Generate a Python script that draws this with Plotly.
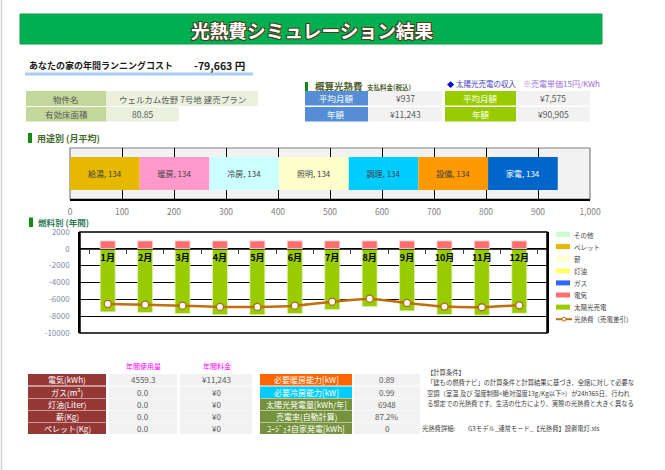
import plotly.graph_objects as go

W, H = 665, 470
FONT = "Noto Sans CJK JP"

# ---------------- data ----------------
usage_names = ['給湯', '暖房', '冷房', '照明', '調理', '設備', '家電']
usage_values = [134, 134, 134, 134, 134, 134, 134]
usage_colors = ['#e6b800', '#ff99cc', '#ccffff', '#ffffcc', '#00ccff', '#ff9900', '#0066cc']
usage_text_colors = ['#404040', '#404040', '#404040', '#404040', '#404040', '#404040', '#ffffff']

months = ['1月', '2月', '3月', '4月', '5月', '6月', '7月', '8月', '9月', '10月', '11月', '12月']
elec_cost = [937, 937, 937, 937, 937, 937, 937, 937, 937, 937, 937, 937]
solar_income = [-7490, -7570, -7690, -7840, -7840, -7690, -7220, -6860, -7370, -7800, -7880, -7650]
net_cost = [-6550, -6630, -6750, -6900, -6900, -6750, -6280, -5920, -6430, -6860, -6940, -6710]
y_ticks = [-10000, -8000, -6000, -4000, -2000, 0, 2000]

legend_names = ['その他', 'ペレット', '薪', '灯油', 'ガス', '電気', '太陽光売電', '光熱費（売電差引）']
legend_colors = ['#ccffcc', '#e6b800', '#ffffcc', '#ffff66', '#3366ff', '#ff6f6f', '#99cc00', '#c06f0c']

running_cost_label = 'あなたの家の年間ランニングコスト'
running_cost_value = '-79,663 円'
property_labels = ['物件名', '有効床面積']
property_values = ['ウェルカム佐野 7号地 建売プラン', '80.85']

cost_labels = ['平均月額', '年額']
cost_values = ['¥937', '¥11,243']
solar_values = ['¥7,575', '¥90,905']

fuel_rows = ['電気(kWh)', 'ガス(m³)', '灯油(Liter)', '薪(Kg)', 'ペレット(Kg)']
fuel_usage = ['4559.3', '0.0', '0.0', '0.0', '0.0']
fuel_cost = ['¥11,243', '¥0', '¥0', '¥0', '¥0']
spec_labels = ['必要暖房能力[kW]', '必要冷房能力[kW]', '太陽光発電量[kWh/年]', '売電率(自動計算)', 'ｺｰｼﾞｪﾈ自家発電[kWh]']
spec_values = ['0.89', '0.99', '6948', '87.2%', '0']
spec_colors = ['#ff6600', '#00ccff', '#76923c', '#76923c', '#76923c']

notes = [
    '【計算条件】',
    '「建もの燃費ナビ」の計算条件と計算結果に基づき、全館に対して必要な',
    '空調（室温 及び 湿度制御<絶対湿度13g/Kg以下>）が24h365日、行われ',
    'る想定での光熱費です。生活の仕方により、実際の光熱費と大きく異なる',
]
detail_label = '光熱費詳細:'
detail_file = 'G3モデル_通常モード_【光熱費】設置電灯.xls'


# ---------------- helpers ----------------
def X(px):
    return px / W


def Y(py):
    return 1 - py / H


shapes = []
annotations = []


def rect(x0, y0, x1, y1, fill, line=None, lw=0, layer='above'):
    shapes.append(dict(type='rect', xref='paper', yref='paper',
                       x0=X(x0), x1=X(x1), y0=Y(y1), y1=Y(y0),
                       fillcolor=fill, layer=layer,
                       line=dict(width=lw, color=line or fill)))


def txt(x, y, s, size=8, color='#404040', anchor='center', bold=False, **fkw):
    annotations.append(dict(xref='paper', yref='paper', x=X(x), y=Y(y), text=s,
                            showarrow=False, xanchor=anchor, yanchor='middle',
                            borderpad=0,
                            font=dict(family=FONT, size=size, color=color,
                                      weight='bold' if bold else 'normal', **fkw)))


fig = go.Figure()

# ---------------- chart 1: usage (horizontal stacked) ----------------
for name, val, col, tcol in zip(usage_names, usage_values, usage_colors, usage_text_colors):
    fig.add_trace(go.Bar(x=[val], y=['月平均'], orientation='h', width=0.65,
                         marker=dict(color=col, line=dict(width=0)),
                         text=[f'{name}, {val}'], textposition='inside',
                         insidetextanchor='middle', textangle=0,
                         textfont=dict(family=FONT, size=8, color=tcol),
                         showlegend=False, hoverinfo='skip',
                         xaxis='x', yaxis='y'))

# ---------------- chart 2: monthly fuel ----------------
fig.add_trace(go.Bar(x=months, y=elec_cost, width=0.4, name='電気',
                     marker=dict(color='#ff6f6f', line=dict(width=0.8, color='#ffd0d0')),
                     showlegend=False, hoverinfo='skip', xaxis='x2', yaxis='y2'))
fig.add_trace(go.Bar(x=months, y=solar_income, width=0.4, name='太陽光売電',
                     marker=dict(color='#99cc00', line=dict(width=0.8, color='#e0f0c0')),
                     showlegend=False, hoverinfo='skip', xaxis='x2', yaxis='y2'))
fig.add_trace(go.Scatter(x=months, y=net_cost, mode='lines+markers', name='光熱費（売電差引）',
                         line=dict(color='#c06f0c', width=2.5, shape='spline', smoothing=0.5),
                         marker=dict(size=7, color='white', line=dict(color='#b5651d', width=1.3)),
                         showlegend=False, hoverinfo='skip', xaxis='x2', yaxis='y2'))

# chart geometry (pixels)
c1 = dict(l=70, r=590, t=148, b=199)
c2 = dict(l=80, r=547, t=232, b=333)
y2min, y2max = y_ticks[0], y_ticks[-1]
zero_pos = Y(c2['b']) + (0 - y2min) / (y2max - y2min) * (Y(c2['t']) - Y(c2['b']))

# chart 1 background / border (paper coords, beneath grid)
rect(c1['l'], c1['t'], c1['r'], c1['b'], '#f2f2f2', line='#808080', lw=1.2, layer='below')
# chart 2 border
shapes.append(dict(type='rect', xref='paper', yref='paper',
                   x0=X(c2['l']), x1=X(c2['r']), y0=Y(c2['b']), y1=Y(c2['t']),
                   fillcolor='rgba(0,0,0,0)', line=dict(width=1.5, color='black'), layer='above'))

# ---------------- page decorations ----------------
shapes.append(dict(type='line', xref='paper', yref='paper', x0=X(1.5), x1=X(1.5), y0=0, y1=1,
                   line=dict(color='#d0d0d0', width=1.5)))

# title bar
rect(20, 14, 602, 44, '#00b050', line='#0e9a44', lw=1)
sh = '#4b3d1e'
txt(312, 29.5, '光熱費シミュレーション結果', size=18.7, color='white', bold=True,
    shadow=f'1px 1px 0px {sh}, -1px -1px 0px {sh}, 1px -1px 0px {sh}, -1px 1px 0px {sh}')

# running cost
txt(28, 66, running_cost_label, size=9, color='#1a1a1a', anchor='left', bold=True)
txt(193, 66, running_cost_value, size=10.5, color='#1a1a1a', anchor='left', bold=True)
rect(25, 72.5, 253, 75.5, '#a9cdf5')

# property table
prop_rows = [(91, 106, 258), (107, 121.5, 179)]
for (t, b, vr), lab, val in zip(prop_rows, property_labels, property_values):
    rect(26, t, 106.5, b, '#c4d79b')
    rect(106.5, t, vr, b, '#ebf1de')
    txt(66, (t + b) / 2, lab, size=8.5, color='#595959')
    txt((106.5 + vr) / 2, (t + b) / 2, val, size=8.5, color='#595959')

# 概算光熱費 block
rect(305, 82, 308, 91, '#138a13')
txt(314, 85.5, '概算光熱費', size=9.5, color='#4f5e2f', anchor='left', bold=True)
txt(366, 87, '支払料金(税込)', size=6.5, color='#4f5e2f', anchor='left', bold=True)
txt(446, 83.5, '◆', size=7, color='#0000cc', anchor='left')
txt(455, 83.5, '太陽光売電の収入', size=7.5, color='#4040c0', anchor='left')
txt(522, 83.5, '※売電単価15円/KWh', size=8, color='#9a6fe0', anchor='left')
cost_rows = [(91, 105.5), (107, 121.5)]
for (t, b), lab, cv, sv in zip(cost_rows, cost_labels, cost_values, solar_values):
    rect(305, t, 368, b, '#558ed5')
    rect(368, t, 442, b, '#f2f2f2')
    rect(445, t, 516, b, '#99cc00')
    rect(516, t, 590, b, '#f2f2f2')
    txt(336.5, (t + b) / 2, lab, size=8.5, color='white')
    txt(405, (t + b) / 2, cv, size=8.5, color='#595959')
    txt(480.5, (t + b) / 2, lab, size=8.5, color='white')
    txt(553, (t + b) / 2, sv, size=8.5, color='#595959')

# section headers
rect(28, 133, 32, 143, '#138a13')
txt(36, 138, '用途別 (月平均)', size=9, color='#3f6a2a', anchor='left', bold=True)
rect(29, 217.5, 33, 227, '#138a13')
txt(37, 222.5, '燃料別 (年間)', size=8.5, color='#2f7a5a', anchor='left', bold=True)

# manual legend for chart 2
leg_y0, leg_dy = 234.5, 12.1
for i, (nm, col) in enumerate(zip(legend_names, legend_colors)):
    yy = leg_y0 + i * leg_dy
    if i < len(legend_names) - 1:
        rect(556, yy - 2.5, 570, yy + 2.5, col)
    else:
        shapes.append(dict(type='line', xref='paper', yref='paper', x0=X(556), x1=X(572),
                           y0=Y(yy), y1=Y(yy), line=dict(color=col, width=2)))
        shapes.append(dict(type='circle', xref='paper', yref='paper', x0=X(562), x1=X(566),
                           y0=Y(yy + 2), y1=Y(yy - 2), fillcolor='white',
                           line=dict(color=col, width=1)))
    txt(573, yy, nm, size=6.5, color='#404040', anchor='left')

# bottom table
txt(143.5, 366, '年間使用量', size=7, color='#ff00ff')
txt(217, 366, '年間料金', size=7, color='#ff00ff')
row_tops = [374, 386.5, 398.5, 410.5, 422.5]
row_h = 11.5
for t, fr, fu, fc, sl, sv, sc in zip(row_tops, fuel_rows, fuel_usage, fuel_cost,
                                    spec_labels, spec_values, spec_colors):
    b = t + row_h
    m = (t + b) / 2
    rect(28, t, 106, b, '#953735')
    rect(109, t, 177, b, '#f2f2f2')
    rect(180, t, 252, b, '#f2f2f2')
    rect(260, t, 352, b, sc)
    rect(354, t, 420, b, '#f2f2f2')
    txt(67, m, fr, size=8, color='white')
    txt(143, m, fu, size=8, color='#595959')
    txt(216, m, fc, size=8, color='#595959')
    txt(306, m, sl, size=8, color='white')
    txt(387, m, sv, size=8, color='#595959')

# notes
note_ys = [372, 382.5, 393, 403]
for ny, nt in zip(note_ys, notes):
    txt(426, ny, nt, size=6.3, color='#404040', anchor='left')
txt(421, 428, detail_label, size=6.3, color='#404040', anchor='left')
txt(467, 428, detail_file, size=6.3, color='#404040', anchor='left')

# ---------------- layout ----------------
fig.update_layout(
    width=W, height=H, margin=dict(l=0, r=0, t=0, b=0, pad=0, autoexpand=False),
    paper_bgcolor='white', plot_bgcolor='rgba(0,0,0,0)',
    barmode='relative', showlegend=False,
    font=dict(family=FONT, color='#404040'),
    xaxis=dict(domain=[X(c1['l']), X(c1['r'])], anchor='y', range=[0, 1000], dtick=100,
               tickformat=',d', showgrid=True, gridcolor='black', gridwidth=1,
               zeroline=False, showline=True, linecolor='black', linewidth=1.5,
               ticks='', ticklabelstandoff=4, automargin=False,
               tickfont=dict(family=FONT, size=8.5, color='#7f7f7f'), fixedrange=True),
    yaxis=dict(domain=[Y(c1['b']), Y(c1['t'])], anchor='x', range=[-0.5, 0.5],
               showticklabels=False, showgrid=False, zeroline=False, fixedrange=True,
               automargin=False),
    xaxis2=dict(domain=[X(c2['l']), X(c2['r'])], anchor='free', position=zero_pos,
                type='category', categoryarray=months, showgrid=False, zeroline=False,
                showline=True, linecolor='#404040', linewidth=1, automargin=False,
                ticks='outside', tickson='boundaries', ticklen=4, tickcolor='#404040',
                tickfont=dict(family=FONT, size=9, color='black', weight='bold'),
                fixedrange=True),
    yaxis2=dict(domain=[Y(c2['b']), Y(c2['t'])], anchor='x2', range=[y2min, y2max],
                tickvals=y_ticks, ticktext=[str(v) for v in y_ticks],
                showgrid=True, gridcolor='black', gridwidth=1, zeroline=False,
                showline=True, linecolor='black', linewidth=1.5, mirror=True,
                ticks='', ticklabelstandoff=7, automargin=False,
                tickfont=dict(family=FONT, size=8, color='#7d8aa0'), fixedrange=True),
    shapes=shapes, annotations=annotations,
)

fig.write_html("out.html", config={'displayModeBar': False},
               post_script="document.body.style.margin='0px';document.body.style.overflow='hidden';")
